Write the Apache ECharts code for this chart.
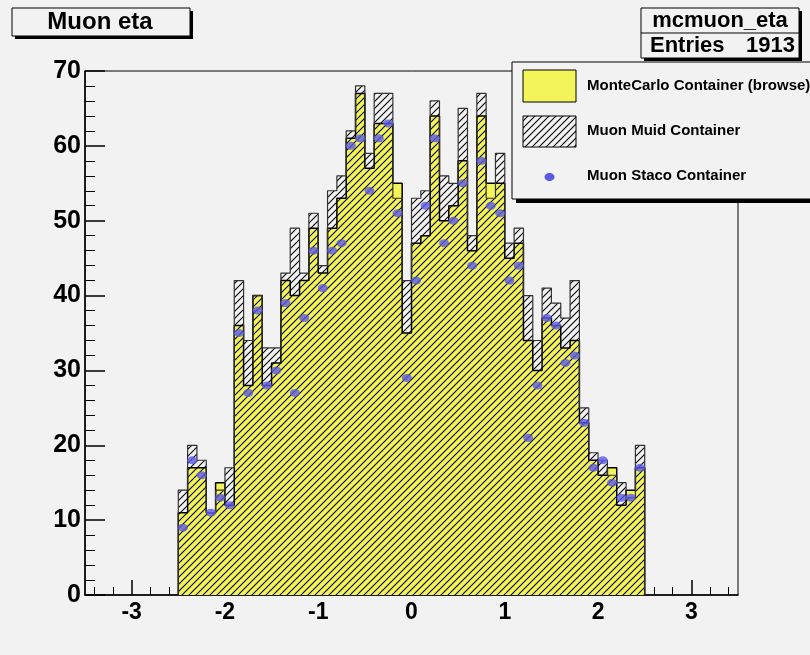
<!DOCTYPE html>
<html>
<head>
<meta charset="utf-8">
<script src="https://cdn.jsdelivr.net/npm/echarts@6/dist/echarts.min.js"></script>
<style>
html,body{margin:0;padding:0;background:#f2f2f2;}
#c{width:810px;height:655px;}
</style>
</head>
<body>
<div id="c"></div>
<script>
// Histogram binning: 50 bins of width 0.1 from -2.5 to 2.5
const binLow = -2.5;
const binWidth = 0.1;

const mcCounts = [11,17,17,11,15,12,36,28,40,28,31,42,40,42,49,43,49,53,61,67,
                  57,63,63,55,35,47,48,64,50,52,58,46,64,55,55,45,47,34,30,37,
                  36,33,34,23,18,16,17,12,14,17];
const muidCounts = [14,20,18,11,14,17,42,34,40,33,33,43,49,43,51,44,54,56,62,68,
                    59,67,67,53,42,53,54,66,56,55,65,48,67,53,59,47,49,40,34,41,
                    39,37,42,25,19,18,16,15,13,20];
const stacoCounts = [9,18,16,11,13,12,35,27,38,28,30,39,27,37,46,41,46,47,60,61,
                     54,61,63,51,29,42,52,61,47,50,55,44,58,52,51,42,44,21,28,37,
                     36,31,32,23,17,18,15,13,13,17];

const xTickLabels = [-3,-2,-1,0,1,2,3];
const xMinorStep = 0.2;
const yTickStep = 10;

const titleText = 'Muon eta';
const statsName = 'mcmuon_eta';
const statsEntries = '1913';
const legendNames = ['MonteCarlo Container (browse)', 'Muon Muid Container', 'Muon Staco Container'];

function edge(i){ return +(binLow + i*binWidth).toFixed(3); }
function stepPoints(counts){
  const pts = [[edge(0), 0]];
  counts.forEach((v,i)=>{ pts.push([edge(i), v], [edge(i+1), v]); });
  pts.push([edge(counts.length), 0]);
  return pts;
}
function centers(counts){
  return counts.map((v,i)=>[+(binLow + (i+0.5)*binWidth).toFixed(3), v]);
}
const xMinorTicks = [];
for (let t = -3.4; t < 3.45; t += xMinorStep) {
  const r = +t.toFixed(2);
  if (Math.abs(r - Math.round(r)) > 1e-6) xMinorTicks.push(r);
}

function hatchCanvas(){
  const s = 7;
  const c = document.createElement('canvas');
  c.width = s; c.height = s;
  const g = c.getContext('2d');
  g.strokeStyle = '#000';
  g.lineWidth = 1.1;
  g.beginPath();
  g.moveTo(0, s); g.lineTo(s, 0);
  g.moveTo(-1, 1); g.lineTo(1, -1);
  g.moveTo(s-1, s+1); g.lineTo(s+1, s-1);
  g.stroke();
  return c;
}
const hatch = hatchCanvas();
const yellow = '#f3f35a';
const blue = '#5a5ae6';
const FONT = '"Liberation Sans", Arial, sans-serif';

const chart = echarts.init(document.getElementById('c'), null, { renderer: 'canvas' });
chart.setOption({
  backgroundColor: '#f2f2f2',
  animation: false,
  grid: { left: 85, right: 72, top: 71, bottom: 60, show: true, borderColor: '#000', borderWidth: 1, backgroundColor: 'transparent' },
  xAxis: [
    { type: 'value', min: -3.5, max: 3.5, position: 'bottom',
      axisLine: { show: true, onZero: false, lineStyle: { color: '#000', width: 1.5 } },
      axisTick: { show: true, inside: true, length: 15, customValues: xTickLabels, lineStyle: { color: '#000', width: 1.5 } },
      axisLabel: { show: true, margin: 6, customValues: xTickLabels, fontFamily: FONT, fontWeight: 'bold', fontSize: 23, color: '#000' },
      splitLine: { show: false } },
    { type: 'value', min: -3.5, max: 3.5, position: 'bottom',
      axisLine: { show: false },
      axisTick: { show: true, inside: true, length: 8, customValues: xMinorTicks, lineStyle: { color: '#000', width: 1 } },
      axisLabel: { show: false },
      splitLine: { show: false } }
  ],
  yAxis: {
    type: 'value', min: 0, max: 70, interval: yTickStep,
    axisLine: { show: true, onZero: false, lineStyle: { color: '#000', width: 1.5 } },
    axisTick: { show: true, inside: true, length: 20, lineStyle: { color: '#000', width: 1.5 } },
    minorTick: { show: true, splitNumber: 5, length: 10, lineStyle: { color: '#000', width: 1 } },
    axisLabel: { margin: 4, fontFamily: FONT, fontWeight: 'bold', fontSize: 25, color: '#000' },
    splitLine: { show: false }
  },
  series: [
    { name: legendNames[0], type: 'line', xAxisIndex: 0, data: stepPoints(mcCounts),
      showSymbol: false, symbol: 'none', z: 2,
      lineStyle: { color: '#000', width: 1.5 },
      areaStyle: { color: yellow, opacity: 1 } },
    { name: legendNames[1], type: 'line', xAxisIndex: 0, data: stepPoints(muidCounts),
      showSymbol: false, symbol: 'none', z: 3,
      lineStyle: { color: '#333', width: 1.2 },
      areaStyle: { color: { image: hatch, repeat: 'repeat' }, opacity: 1 } },
    { name: legendNames[2], type: 'scatter', xAxisIndex: 0, data: centers(stacoCounts),
      symbol: 'circle', symbolSize: [10, 8], z: 4,
      itemStyle: { color: blue } }
  ],
  graphic: [
    // title box
    { type: 'rect', z: 100, shape: { x: 15, y: 11, width: 178, height: 28 }, style: { fill: '#000' } },
    { type: 'rect', z: 101, shape: { x: 12, y: 8, width: 178, height: 28 }, style: { fill: '#f2f2f2', stroke: '#000', lineWidth: 1 } },
    { type: 'text', z: 102, x: 100, y: 22, style: { text: titleText, fill: '#000', font: 'bold 24px ' + FONT, align: 'center', verticalAlign: 'middle' } },
    // stats box
    { type: 'rect', z: 100, shape: { x: 644, y: 11, width: 158, height: 50 }, style: { fill: '#000' } },
    { type: 'rect', z: 101, shape: { x: 641, y: 8, width: 158, height: 50 }, style: { fill: '#f2f2f2', stroke: '#000', lineWidth: 1 } },
    { type: 'line', z: 102, shape: { x1: 641, y1: 33, x2: 799, y2: 33 }, style: { stroke: '#000', lineWidth: 1 } },
    { type: 'text', z: 102, x: 720, y: 21, style: { text: statsName, fill: '#000', font: 'bold 22px ' + FONT, align: 'center', verticalAlign: 'middle' } },
    { type: 'text', z: 102, x: 650, y: 46, style: { text: 'Entries', fill: '#000', font: 'bold 22px ' + FONT, align: 'left', verticalAlign: 'middle' } },
    { type: 'text', z: 102, x: 795, y: 46, style: { text: statsEntries, fill: '#000', font: 'bold 22px ' + FONT, align: 'right', verticalAlign: 'middle' } },
    // legend box
    { type: 'rect', z: 100, shape: { x: 516, y: 66, width: 320, height: 137 }, style: { fill: '#000' } },
    { type: 'rect', z: 101, shape: { x: 512, y: 62, width: 320, height: 137 }, style: { fill: '#f2f2f2', stroke: '#000', lineWidth: 1 } },
    { type: 'rect', z: 102, shape: { x: 523, y: 70, width: 53, height: 32 }, style: { fill: yellow, stroke: '#000', lineWidth: 1 } },
    { type: 'rect', z: 102, shape: { x: 523, y: 116, width: 53, height: 31 }, style: { fill: { image: hatch, repeat: 'repeat' }, stroke: '#000', lineWidth: 1 } },
    { type: 'ellipse', z: 102, shape: { cx: 549.5, cy: 177, rx: 5, ry: 4 }, style: { fill: blue } },
    { type: 'text', z: 102, x: 587, y: 86, style: { text: legendNames[0], fill: '#000', font: 'bold 15px ' + FONT, verticalAlign: 'middle' } },
    { type: 'text', z: 102, x: 587, y: 131, style: { text: legendNames[1], fill: '#000', font: 'bold 15px ' + FONT, verticalAlign: 'middle' } },
    { type: 'text', z: 102, x: 587, y: 176, style: { text: legendNames[2], fill: '#000', font: 'bold 15px ' + FONT, verticalAlign: 'middle' } }
  ]
});
</script>
</body>
</html>
